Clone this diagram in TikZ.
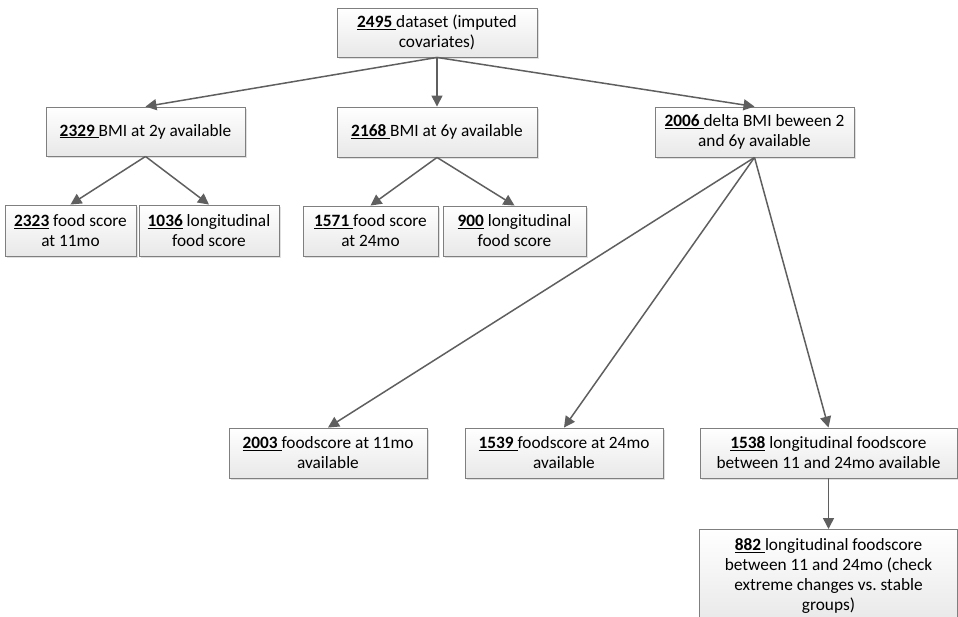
\documentclass[tikz,border=0pt]{standalone}
\usepackage{fontspec}
\setmainfont{Carlito}
\frenchspacing
\usetikzlibrary{arrows.meta,shadows}
\definecolor{boxline}{HTML}{7F7F7F}
\definecolor{arrowc}{HTML}{5F5F5F}
\tikzset{
  fbox/.style={draw=boxline, line width=0.9pt, inner sep=0pt, align=center,
    top color=white, bottom color=black!9,
    drop shadow={shadow xshift=2pt, shadow yshift=-2pt, fill=black!12, opacity=1},
    font=\fontsize{17.3}{20}\selectfont},
  conn/.style={draw=arrowc, line width=1.5pt, -{Triangle[length=11pt,width=11pt]}},
}
\newcommand{\num}[1]{\underline{\textbf{#1}}}
\begin{document}
\begin{tikzpicture}[x=1pt,y=-1pt]
\useasboundingbox (0,0) rectangle (958,617);
\clip (0,0) rectangle (958,617);
\node[fbox, minimum width=200pt, minimum height=49pt] (top) at (437,32.5) {\num{2495\ }dataset (imputed\\covariates)};
\node[fbox, minimum width=199pt, minimum height=49pt] (b2329) at (145.5,131.5) {\num{2329\ }BMI at 2y available};
\node[fbox, minimum width=200pt, minimum height=50pt] (b2168) at (437,132) {\num{2168\ }BMI at 6y available};
\node[fbox, minimum width=199pt, minimum height=50pt] (b2006) at (754.5,132) {\num{2006\ }delta BMI beween 2\\and 6y available};
\node[fbox, minimum width=131pt, minimum height=51pt] (b2323) at (70.5,230.5) {\num{2323} food score\\at 11mo};
\node[fbox, minimum width=140pt, minimum height=51pt] (b1036) at (209,230.5) {\num{1036} longitudinal\\food score};
\node[fbox, minimum width=135pt, minimum height=50pt] (b1571) at (370.5,231) {\num{1571\ }food score\\at 24mo};
\node[fbox, minimum width=143pt, minimum height=50pt] (b900) at (514.5,231) {\num{900} longitudinal\\food score};
\node[fbox, minimum width=198pt, minimum height=50pt] (b2003) at (328,453) {\num{2003\ }foodscore at 11mo\\available};
\node[fbox, minimum width=198pt, minimum height=50pt] (b1539) at (564,453) {\num{1539\ }foodscore at 24mo\\available};
\node[fbox, minimum width=257pt, minimum height=50pt] (b1538) at (828.5,453) {\num{1538} longitudinal foodscore\\between 11 and 24mo available};
\node[fbox, minimum width=258pt, minimum height=94pt, anchor=north] (b882) at (828.5,529) {\num{882\ }longitudinal foodscore\\between 11 and 24mo (check\\extreme changes vs. stable\\groups)};
\draw[conn] (top.south) -- (b2329.north);
\draw[conn] (top.south) -- (b2168.north);
\draw[conn] (top.south) -- (b2006.north);
\draw[conn] (b2329.south) -- (b2323.north);
\draw[conn] (b2329.south) -- (b1036.north);
\draw[conn] (b2168.south) -- (b1571.north);
\draw[conn] (b2168.south) -- (b900.north);
\draw[conn] (b2006.south) -- (b2003.north);
\draw[conn] (b2006.south) -- (b1539.north);
\draw[conn] (b2006.south) -- (b1538.north);
\draw[conn] (b1538.south) -- (b882.north);
\end{tikzpicture}
\end{document}
